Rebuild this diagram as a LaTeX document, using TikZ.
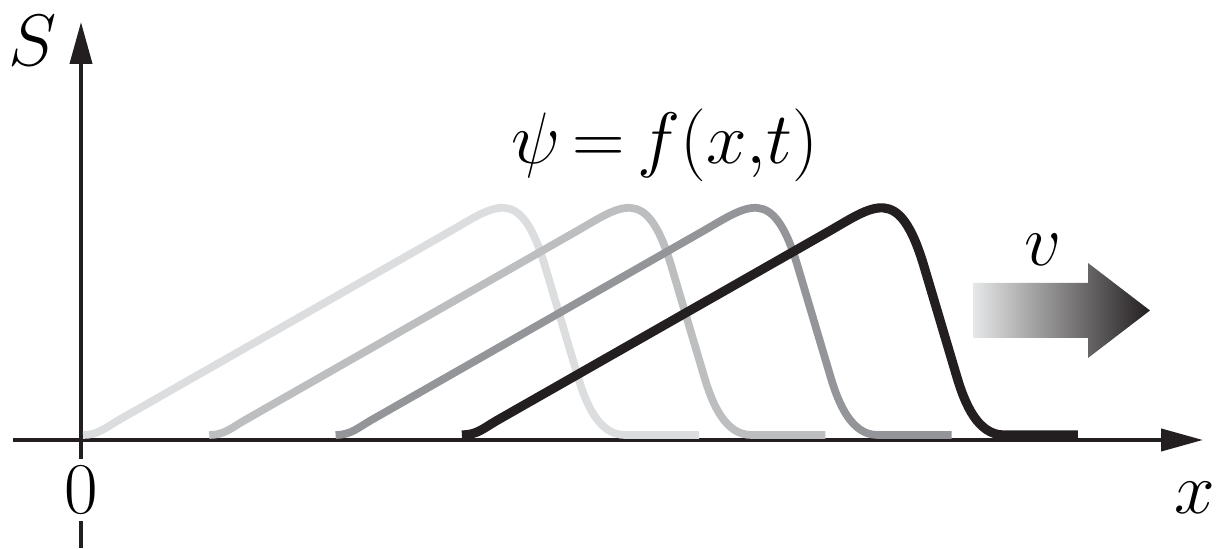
\documentclass[tikz,border=0pt]{standalone}
\usepackage{amsmath}
\usetikzlibrary{arrows.meta}
\definecolor{inkblack}{HTML}{231F20}
\definecolor{pulseA}{HTML}{DCDDDF}
\definecolor{pulseB}{HTML}{BCBEC0}
\definecolor{pulseC}{HTML}{939598}
\definecolor{arrowlight}{HTML}{E6E7E8}

\begin{document}
\begin{tikzpicture}[
  axis/.style={line width=1.15pt, inkblack, -{Triangle[length=4.2mm, width=2.2mm]}},
  lbl/.style={font=\fontsize{22}{26}\selectfont, inner sep=0pt},
]
\useasboundingbox (-0.81,-1.09) rectangle (11.36,4.40);
\def\d{1.263}
\coordinate (O) at (0,0);
\coordinate (ybot) at (0,-1.08);
\coordinate (ytop) at (0,4.18);
\coordinate (xleft) at (-0.68,0);
\coordinate (xright) at (11.22,0);

\draw[axis] (ybot) -- (ytop);
\draw[axis] (xleft) -- (xright);

% the pulse at four times, lightest first
\foreach \i/\col/\w in {0/pulseA/2.2pt, 1/pulseB/2.2pt, 2/pulseC/2.2pt, 3/inkblack/2.6pt}
  \draw[\col, line width=\w, shift={({0.02+\i*\d},0)}]
    (0,0.05) .. controls (0.15,0.05) and (0.22,0.12) .. (0.35,0.195)
    -- (3.65,2.075) .. controls (4.12,2.343) and (4.37,2.574) .. (4.62,1.74)
    -- (4.95,0.63) .. controls (5.03,0.36) and (5.16,0.05) .. (5.42,0.05)
    -- (6.16,0.05);

% velocity arrow
\shade[left color=arrowlight, right color=inkblack]
  (8.92,1.02) -- (10.07,1.02) -- (10.07,0.82) -- (10.69,1.295)
  -- (10.07,1.77) -- (10.07,1.57) -- (8.92,1.57) -- cycle;

\node[lbl] (S) at (-0.48,3.99) {$S$};
\node[lbl, fill=white, inner sep=2pt] (zero) at (0,-0.50) {$0$};
\node[lbl] (xlab) at (11.14,-0.58) {$x$};
\node[lbl] (wave) at (5.84,2.95) {$\psi\,{=}\,f(x{,}t)$};
\node[lbl] (vel) at (9.62,1.90) {$v$};
\end{tikzpicture}
\end{document}
